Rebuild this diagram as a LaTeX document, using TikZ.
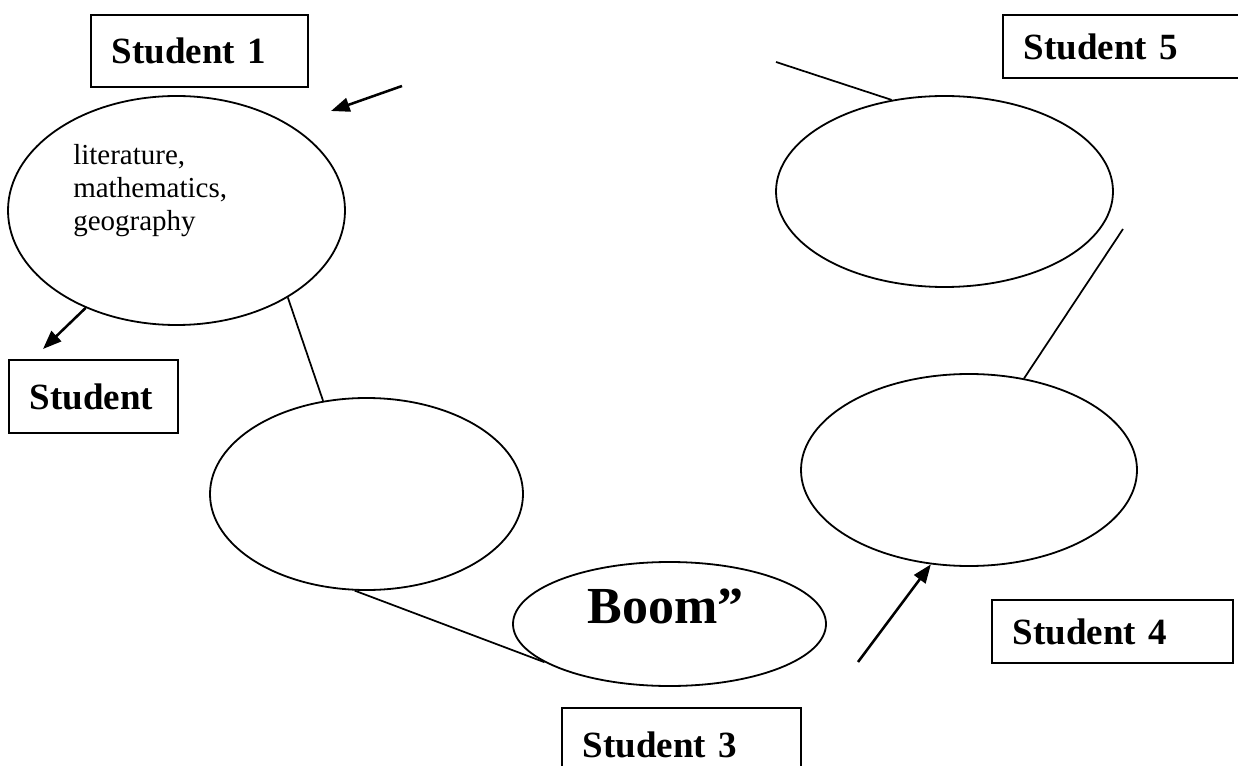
\documentclass[tikz,border=0pt]{standalone}
\usepackage{fontspec}
\setmainfont{Liberation Serif}
\usetikzlibrary{shapes.geometric,arrows.meta}
\begin{document}
\begin{tikzpicture}[x=0.75pt,y=-0.75pt,
  bubble/.style={draw, ellipse, line width=1.35pt, inner sep=0pt},
  namebox/.style={draw, rectangle, line width=1.35pt, inner ysep=0pt, inner xsep=15.75pt,
    align=left, anchor=north west, font=\bfseries\fontsize{27.75}{30}\selectfont},
  link/.style={line width=1.3pt},
  pointer/.style={line width=1.9pt, -{Triangle[length=14pt,width=10.5pt]}}]
\useasboundingbox (0,0) rectangle (1238,766);
\clip (0,0) rectangle (1238,766);

% name boxes
\node[namebox, text width=131.25pt, minimum height=54pt]    (s1) at (90,14)   {Student 1};
\node[namebox, text width=95.25pt,  minimum height=54.75pt] (s2) at (8,359)   {Student};
\node[namebox, text width=147.75pt, minimum height=54.75pt] (s3) at (561,707) {Student 3};
\node[namebox, text width=149.25pt, minimum height=47.25pt] (s4) at (991,599) {Student 4};
\node[namebox, text width=147pt,    minimum height=47.25pt] (s5) at (1002,14) {Student 5};

% bubbles
\node[bubble, minimum width=252.75pt, minimum height=171.75pt] (e1) at (176.5,210.5) {};
\node[bubble, minimum width=234.75pt, minimum height=144pt]    (e2) at (366.5,494) {};
\node[bubble, minimum width=234.75pt, minimum height=93pt]     (e3) at (669.5,624) {};
\node[bubble, minimum width=252pt,    minimum height=144pt]    (e4) at (969,470) {};
\node[bubble, minimum width=252.75pt, minimum height=143.25pt] (e5) at (944.5,191.5) {};

% bubble contents
\node[anchor=north west, inner sep=0pt, align=left,
      font=\fontsize{21.75}{24.75}\selectfont] (topics) at (73,144)
  {literature,\\mathematics,\\geography};
\node[anchor=base, inner sep=0pt, font=\bfseries\fontsize{39}{42}\selectfont]
  (boom) at (665.5,623) {Boom”};

% free ends of connectors
\coordinate (p1tail) at (402,86);
\coordinate (p1tip)  at (331,111);
\coordinate (p2tip)  at (43,349);
\coordinate (l5end)  at (776,62);
\coordinate (l4end)  at (1123,229);
\coordinate (p4tail) at (858,662);

% connectors
\draw[pointer] (p1tail) -- (p1tip);
\draw[pointer] (e1.-133) -- (p2tip);
\draw[link] (e1.-38) -- (e2.115);
\draw[link] (e2.-97) -- (e3.197);
\draw[link] (l5end) -- (e5.120);
\draw[link] (l4end) -- (e4.59);
\draw[pointer] (p4tail) -- (e4.-112);
\end{tikzpicture}
\end{document}
